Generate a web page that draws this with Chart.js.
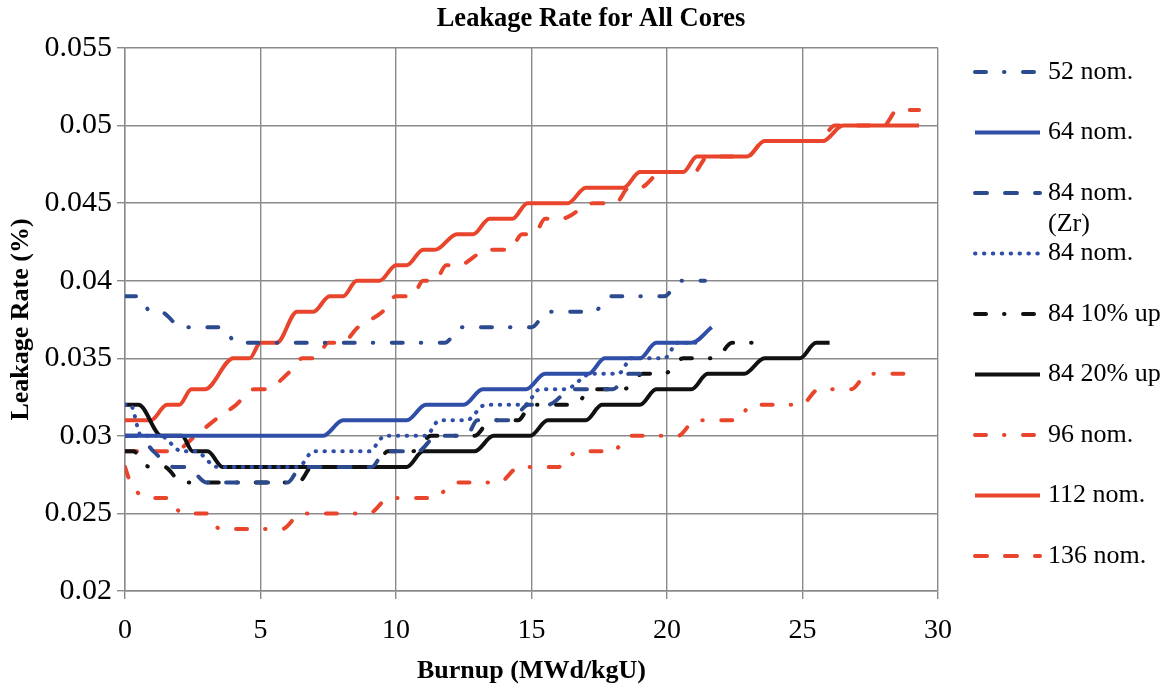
<!DOCTYPE html>
<html>
<head>
<meta charset="utf-8">
<script src="https://cdn.jsdelivr.net/npm/chart.js@4.4.1/dist/chart.umd.min.js"></script>
<style>
  html, body { margin: 0; padding: 0; background: #ffffff; }
  #wrap { width: 1171px; height: 689px; }
</style>
</head>
<body>
<div id="wrap"><canvas id="chart" width="1171" height="689"></canvas></div>
<script>
// Burnup (MWd/kgU) and leakage rate (%) for each core design
const nom52X = [0, 0.5, 0.95, 1.3, 2.1, 3.6, 4.1, 11.8, 12.4, 15.0, 15.6, 17.3, 17.9, 19.9, 20.5, 21.4];
const nom52Y = [0.039, 0.039, 0.038, 0.038, 0.037, 0.037, 0.036, 0.036, 0.037, 0.037, 0.038, 0.038, 0.039, 0.039, 0.040, 0.040];

const nom64X = [0, 7.3, 8.05, 10.4, 11.1, 12.5, 13.2, 14.8, 15.5, 17.1, 17.7, 19.0, 19.6, 20.9, 21.65];
const nom64Y = [0.030, 0.030, 0.031, 0.031, 0.032, 0.032, 0.033, 0.033, 0.034, 0.034, 0.035, 0.035, 0.036, 0.036, 0.037];

const nom84ZrX = [0, 0.5, 1.05, 1.8, 2.3, 3.0, 6.0, 6.5, 9.1, 9.6, 10.8, 11.5, 12.6, 13.0, 14.2, 14.9, 15.6, 16.5, 18.0, 18.6, 19.5];
const nom84ZrY = [0.030, 0.030, 0.029, 0.028, 0.028, 0.027, 0.027, 0.028, 0.028, 0.029, 0.029, 0.030, 0.030, 0.031, 0.031, 0.032, 0.032, 0.033, 0.033, 0.034, 0.034];

const nom84X = [0, 0.2, 0.6, 1.3, 2.1, 2.6, 3.4, 6.4, 6.95, 9.0, 9.6, 11.1, 11.6, 12.6, 13.3, 14.75, 15.3, 16.25, 17.2, 18.2, 18.7, 19.9, 20.4, 21.3];
const nom84Y = [0.032, 0.032, 0.030, 0.030, 0.029, 0.029, 0.028, 0.028, 0.029, 0.029, 0.030, 0.030, 0.031, 0.031, 0.032, 0.032, 0.033, 0.033, 0.034, 0.034, 0.035, 0.035, 0.036, 0.036];

const up10X = [0, 0.3, 0.9, 1.45, 2.1, 6.4, 6.9, 9.2, 9.7, 10.6, 11.3, 12.9, 13.5, 14.5, 15.0, 16.6, 17.2, 18.4, 19.1, 19.9, 20.6, 21.8, 22.4, 23.7];
const up10Y = [0.029, 0.029, 0.028, 0.028, 0.027, 0.027, 0.028, 0.028, 0.029, 0.029, 0.030, 0.030, 0.031, 0.031, 0.032, 0.032, 0.033, 0.033, 0.034, 0.034, 0.035, 0.035, 0.036, 0.036];

const up20X = [0, 0.5, 1.35, 2.1, 2.5, 3.05, 3.6, 10.4, 11.0, 12.9, 13.6, 14.95, 15.6, 17.0, 17.6, 19.0, 19.6, 20.9, 21.5, 22.85, 23.6, 24.9, 25.5, 26.0];
const up20Y = [0.032, 0.032, 0.030, 0.030, 0.029, 0.029, 0.028, 0.028, 0.029, 0.029, 0.030, 0.030, 0.031, 0.031, 0.032, 0.032, 0.033, 0.033, 0.034, 0.034, 0.035, 0.035, 0.036, 0.036];

const nom96X = [0, 0.2, 0.9, 1.6, 2.1, 3.0, 3.5, 5.8, 6.5, 9.0, 9.75, 11.4, 12.2, 13.8, 14.55, 16.0, 16.7, 18.0, 18.6, 20.4, 21.05, 22.6, 23.1, 24.95, 25.6, 26.8, 27.4, 29.2];
const nom96Y = [0.028, 0.027, 0.026, 0.026, 0.025, 0.025, 0.024, 0.024, 0.025, 0.025, 0.026, 0.026, 0.027, 0.027, 0.028, 0.028, 0.029, 0.029, 0.030, 0.030, 0.031, 0.031, 0.032, 0.032, 0.033, 0.033, 0.034, 0.034];

const nom112X = [0, 0.95, 1.55, 2.0, 2.45, 2.95, 4.0, 4.6, 5.0, 5.6, 6.35, 6.95, 7.55, 8.05, 8.55, 9.4, 10.0, 10.4, 11.0, 11.45, 12.25, 12.85, 13.45, 14.3, 14.85, 16.35, 17.0, 18.4, 19.0, 20.6, 21.1, 22.95, 23.6, 25.75, 26.5, 29.3];
const nom112Y = [0.031, 0.031, 0.032, 0.032, 0.033, 0.033, 0.035, 0.035, 0.036, 0.036, 0.038, 0.038, 0.039, 0.039, 0.040, 0.040, 0.041, 0.041, 0.042, 0.042, 0.043, 0.043, 0.044, 0.044, 0.045, 0.045, 0.046, 0.046, 0.047, 0.047, 0.048, 0.048, 0.049, 0.049, 0.050, 0.050];

const nom136X = [0, 1.8, 2.6, 3.3, 4.1, 4.75, 5.2, 6.0, 6.55, 7.05, 7.5, 8.0, 8.6, 9.5, 10.0, 10.6, 11.0, 11.45, 11.85, 12.3, 13.4, 14.2, 14.65, 15.1, 15.5, 16.1, 17.3, 18.1, 18.6, 19.0, 19.8, 21.0, 21.5, 22.95, 23.6, 25.6, 26.2, 28.0, 28.5, 29.3];
const nom136Y = [0.029, 0.029, 0.030, 0.031, 0.032, 0.033, 0.033, 0.034, 0.035, 0.035, 0.036, 0.036, 0.037, 0.038, 0.039, 0.039, 0.040, 0.040, 0.041, 0.041, 0.042, 0.042, 0.043, 0.043, 0.044, 0.044, 0.045, 0.045, 0.046, 0.046, 0.047, 0.047, 0.048, 0.048, 0.049, 0.049, 0.050, 0.050, 0.051, 0.051];

const seriesLabels = ['52 nom.', '64 nom.', ['84 nom.', '(Zr)'], '84 nom.', '84 10% up', '84 20% up', '96 nom.', '112 nom.', '136 nom.'];

const chartTitle = 'Leakage Rate for All Cores';
const xTicks = [0, 5, 10, 15, 20, 25, 30];
const yTickLabels = ['0.02', '0.025', '0.03', '0.035', '0.04', '0.045', '0.05', '0.055'];

// ---- styling ----
const SERIF = '"Liberation Serif", "Times New Roman", serif';
const RED = '#e8452c';
const BLUE = '#2f4ea8';
const NAVY = '#2c4a8e';
const BLACK = '#111111';
const GRID = '#8a8a8a';

const DASH_DOT = [11, 18, 0.5, 18.5];
const DASHED = [12, 18];
const DOTTED = [0.5, 8.4];

function pts(xs, ys) {
  return xs.map((x, i) => ({ x: x, y: ys[i] }));
}

const styles = [
  { c: NAVY,  dash: DASH_DOT },
  { c: BLUE,  dash: [] },
  { c: NAVY,  dash: DASHED },
  { c: BLUE,  dash: DOTTED },
  { c: BLACK, dash: DASH_DOT },
  { c: BLACK, dash: [] },
  { c: RED,   dash: DASH_DOT },
  { c: RED,   dash: [] },
  { c: RED,   dash: DASHED }
];

const seriesData = [
  pts(nom52X, nom52Y),
  pts(nom64X, nom64Y),
  pts(nom84ZrX, nom84ZrY),
  pts(nom84X, nom84Y),
  pts(up10X, up10Y),
  pts(up20X, up20Y),
  pts(nom96X, nom96Y),
  pts(nom112X, nom112Y),
  pts(nom136X, nom136Y)
];

const datasets = seriesData.map((d, i) => ({
  label: seriesLabels[i],
  data: d,
  borderColor: styles[i].c,
  backgroundColor: styles[i].c,
  borderWidth: 4,
  borderDash: styles[i].dash,
  borderCapStyle: styles[i].dash.length ? 'round' : 'butt',
  borderJoinStyle: 'round',
  cubicInterpolationMode: 'monotone',
  pointRadius: 0,
  fill: false
}));

// Title above the plot and legend down the right-hand side
const chartText = {
  id: 'chartText',
  afterDraw(chart) {
    const ctx = chart.ctx;
    ctx.save();
    ctx.fillStyle = '#000';
    ctx.font = 'bold 26.5px ' + SERIF;
    ctx.textAlign = 'center';
    ctx.textBaseline = 'middle';
    ctx.fillText(chartTitle, 591, 19);
    ctx.restore();

    const x0 = 975, x1 = 1040, tx = 1048, top = 72, step = 60.5;
    chart.data.datasets.forEach((ds, i) => {
      const y = top + i * step;
      ctx.save();
      ctx.strokeStyle = ds.borderColor;
      ctx.lineWidth = ds.borderWidth;
      ctx.lineCap = ds.borderCapStyle;
      ctx.setLineDash(ds.borderDash);
      ctx.beginPath();
      ctx.moveTo(x0, y);
      ctx.lineTo(x1, y);
      ctx.stroke();
      ctx.setLineDash([]);
      ctx.fillStyle = '#000';
      ctx.font = '26px ' + SERIF;
      ctx.textBaseline = 'middle';
      ctx.textAlign = 'left';
      const lines = Array.isArray(ds.label) ? ds.label : [ds.label];
      lines.forEach((t, k) => ctx.fillText(t, tx, y + k * 31));
      ctx.restore();
    });
  }
};

new Chart(document.getElementById('chart'), {
  type: 'line',
  data: { datasets: datasets },
  plugins: [chartText],
  options: {
    responsive: false,
    animation: false,
    devicePixelRatio: 1,
    layout: { padding: { left: 0, right: 233, top: 48, bottom: 0 } },
    plugins: {
      legend: { display: false },
      tooltip: { enabled: false },
      title: { display: false }
    },
    scales: {
      x: {
        type: 'linear',
        min: 0,
        max: 30,
        afterBuildTicks: (s) => { s.ticks = xTicks.map(v => ({ value: v })); },
        afterFit: (s) => { s.height = 98; },
        ticks: {
          color: '#000',
          font: { family: SERIF, size: 28 },
          padding: 15,
          maxRotation: 0,
          callback: (v) => String(v)
        },
        grid: { color: GRID, lineWidth: 1.4, tickLength: 8, tickColor: GRID },
        border: { color: GRID, width: 1.4 },
        title: {
          display: true,
          text: 'Burnup (MWd/kgU)',
          color: '#000',
          font: { family: SERIF, size: 26, weight: 'bold' },
          padding: { top: 0, bottom: 2 }
        }
      },
      y: {
        type: 'linear',
        min: 0.02,
        max: 0.055,
        afterBuildTicks: (s) => { s.ticks = yTickLabels.map(t => ({ value: parseFloat(t) })); },
        afterFit: (s) => { s.width = 125; },
        ticks: {
          color: '#000',
          font: { family: SERIF, size: 30 },
          padding: 5,
          callback: (v, i) => yTickLabels[i]
        },
        grid: { color: GRID, lineWidth: 1.4, tickLength: 8, tickColor: GRID },
        border: { color: GRID, width: 1.4 },
        title: {
          display: true,
          text: 'Leakage Rate (%)',
          color: '#000',
          font: { family: SERIF, size: 26, weight: 'bold' },
          padding: { top: 6, bottom: 0 }
        }
      }
    }
  }
});
</script>
</body>
</html>
